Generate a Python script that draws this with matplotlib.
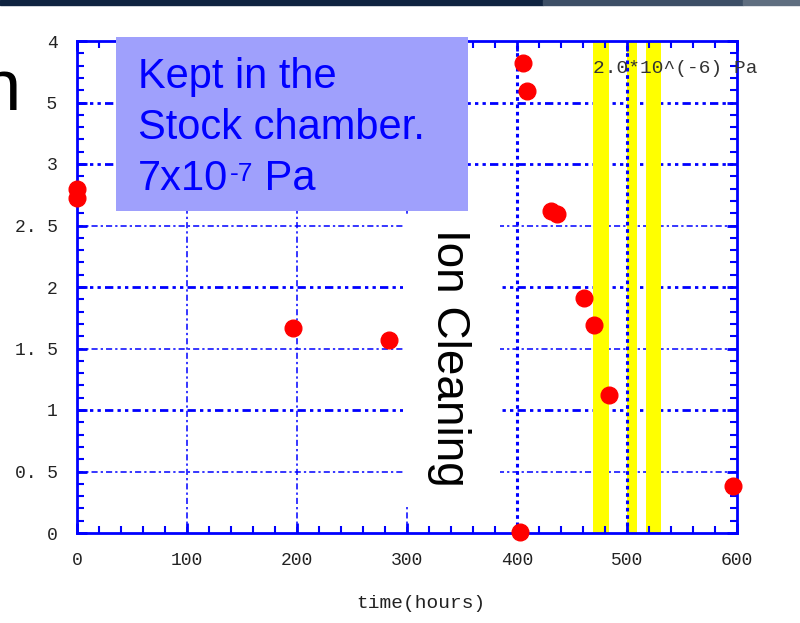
import matplotlib
matplotlib.use('Agg')
import matplotlib.pyplot as plt
import numpy as np
from matplotlib.patches import Rectangle

# measured points (time in hours, value)
t = [0, 0, 196, 284, 403, 405, 409, 431, 436, 461, 470, 484, 596]
val = [2.80, 2.72, 1.67, 1.57, 0.01, 3.82, 3.59, 2.62, 2.59, 1.91, 1.69, 1.12, 0.38]

# yellow bands (start, end) in hours
bands = [(469, 484), (500, 509), (517, 531)]

xticks = [0, 100, 200, 300, 400, 500, 600]
yticks = [0, 0.5, 1, 1.5, 2, 2.5, 3, 3.5, 4]
ylabels = ['0', '0. 5', '1', '1. 5', '2', '2. 5', '3', '. 5', '4']

W, H = 800, 623
fig = plt.figure(figsize=(8, 6.23), dpi=100)
fig.patch.set_facecolor('white')

def fx(px):
    return px / W

def fy(py):
    return (H - py) / H

# slide header bar
for x0, x1, c in [(0, 543, '#0f2340'), (543, 743, '#3d4f66'), (743, 800, '#5f6e80')]:
    fig.patches.append(Rectangle((fx(x0), fy(5)), fx(x1 - x0), 5 / H,
                                 transform=fig.transFigure, color=c, zorder=0))

ax = fig.add_axes([fx(77), fy(533), fx(737 - 77), (533 - 41) / H])
ax.set_xlim(0, 600)
ax.set_ylim(0, 4)

blue = '#0000ff'
mono = 'Liberation Mono'

# grid
for y in [0.5, 1, 1.5, 2, 2.5, 3, 3.5]:
    if y == int(y) or y == 3.5:
        ax.axhline(y, color=blue, lw=2.0, ls=(0, (3, 1.5, 1.2, 1.5, 1.2, 1.5)), zorder=1)
    else:
        ax.axhline(y, color=blue, lw=1.1, ls=(0, (4, 2, 1.5, 2)), zorder=1)
for x in [100, 200, 300]:
    ax.axvline(x, color=blue, lw=1.1, ls=(0, (4, 2, 1.5, 2)), zorder=1)

for a, b in bands:
    ax.axvspan(a, b, color='#ffff00', lw=0, zorder=1.5)

for x in [400, 500]:
    ax.axvline(x, color=blue, lw=2.2, ls=(0, (1.2, 1.2)), zorder=2)

ax.plot(t, val, 'o', color='#ff0000', ms=12, mec='#ff0000', zorder=8, clip_on=False)

# axes styling
for s in ax.spines.values():
    s.set_color(blue)
    s.set_linewidth(2)
ax.set_xticks(xticks)
ax.set_xticks(np.arange(0, 601, 20), minor=True)
ax.set_yticks(yticks)
ax.set_yticklabels(ylabels)
ax.set_yticks(np.arange(0, 4.01, 0.1), minor=True)
ax.tick_params(which='both', direction='in', top=True, right=True, color=blue,
               labelsize=13, labelcolor='#222222')
ax.tick_params(which='major', length=7, width=2, pad=14)
ax.tick_params(which='minor', length=5, width=1.5)
for lab in ax.get_xticklabels() + ax.get_yticklabels():
    lab.set_family(mono)

fig.text(fx(421), fy(604), 'time(hours)', family=mono, fontsize=14,
         color='#222222', ha='center', va='center')

ax.text(469, 3.78, '2.0*10^(-6) Pa', family=mono, fontsize=14, color='#333333',
        ha='left', va='center', zorder=9, clip_on=False)

# white box behind the "Ion Cleaning" label
ax.add_patch(Rectangle((fx(403), fy(505)), fx(97), 290 / H, transform=fig.transFigure,
                       facecolor='white', edgecolor='none', zorder=3, clip_on=False))
fig.text(fx(449), fy(358), 'Ion Cleaning', family='Liberation Sans', fontsize=33,
         rotation=270, ha='center', va='center', color='black', zorder=4)

# purple note box
ax.add_patch(Rectangle((fx(116), fy(211)), fx(352), 174 / H, transform=fig.transFigure,
                       facecolor='#9fa0fc', edgecolor='none', zorder=10, clip_on=False))
sans = 'Liberation Sans'
fig.text(fx(138), fy(88), 'Kept in the', family=sans, fontsize=30, color=blue,
         va='baseline', zorder=11)
fig.text(fx(138), fy(139), 'Stock chamber.', family=sans, fontsize=30, color=blue,
         va='baseline', zorder=11)
t3 = fig.text(fx(138), fy(190), '7x10', family=sans, fontsize=30, color=blue,
              va='baseline', zorder=11)
sup = ax.annotate('-7', xy=(1, 1), xycoords=t3, xytext=(1, -2),
                  textcoords='offset points', family=sans, fontsize=19, color=blue,
                  ha='left', va='top', zorder=11, annotation_clip=False)
ax.annotate(' Pa', xy=(1, 0), xycoords=(sup, t3), family=sans, fontsize=30,
            color=blue, ha='left', va='bottom', zorder=11, annotation_clip=False)

# slide title fragment on the left
ax.add_patch(Rectangle((0, fy(130)), fx(44), 75 / H, transform=fig.transFigure,
                       facecolor='white', edgecolor='none', zorder=10, clip_on=False))
fig.text(fx(-20), fy(110), 'n', family=sans, fontsize=52, color='black',
         ha='left', va='baseline', zorder=11)

fig.savefig('out.png', dpi=100)
